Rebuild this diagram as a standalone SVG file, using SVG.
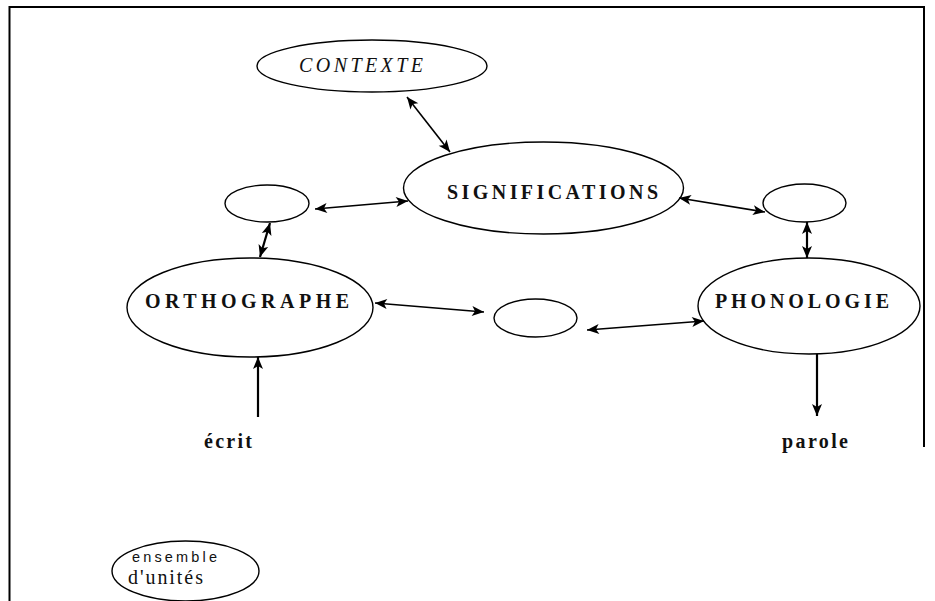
<svg xmlns="http://www.w3.org/2000/svg" width="935" height="601" viewBox="0 0 935 601">
<style>
.node ellipse{fill:#fff;stroke:#000;stroke-width:1.4}
.t{font-family:"Liberation Serif","Times New Roman",serif;font-size:20px;fill:#111}
.b{font-weight:bold}
.i{font-style:italic}
.s{font-family:"Liberation Sans",Arial,sans-serif;font-size:14.5px;fill:#111}
.c line{stroke:#000;stroke-width:1.6;fill:none}
.c line.k{stroke-width:2.2}
.frame{stroke:#000;stroke-width:2;fill:none}
</style>
<defs>
<marker id="ah" viewBox="-1 -6 14 12" refX="12" refY="0" markerWidth="14" markerHeight="12" markerUnits="userSpaceOnUse" orient="auto-start-reverse">
<path d="M0,-5 L12,0 L0,5 L3,0 Z" fill="#000"/>
</marker>
</defs>
<g id="frame">
<path class="frame" d="M9.5,601 V7 H924 V447"/>
</g>
<g id="contexte" class="node">
<ellipse cx="372" cy="66" rx="115" ry="26"/>
<text class="t i" x="299" y="72" textLength="124">CONTEXTE</text>
</g>
<g id="significations" class="node">
<ellipse cx="543.5" cy="188" rx="140" ry="46"/>
<text class="t b" x="447" y="199" textLength="211">SIGNIFICATIONS</text>
</g>
<g id="small-left" class="node">
<ellipse cx="267" cy="203.5" rx="42" ry="18.5"/>
</g>
<g id="small-right" class="node">
<ellipse cx="804.5" cy="203" rx="41.5" ry="19"/>
</g>
<g id="orthographe" class="node">
<ellipse cx="250" cy="307.5" rx="123" ry="49.5"/>
<text class="t b" x="145" y="308" textLength="204">ORTHOGRAPHE</text>
</g>
<g id="small-middle" class="node">
<ellipse cx="535.5" cy="318" rx="41.5" ry="19"/>
</g>
<g id="phonologie" class="node">
<ellipse cx="809" cy="306" rx="111" ry="48"/>
<text class="t b" x="715" y="308" textLength="174">PHONOLOGIE</text>
</g>
<g id="ecrit">
<text class="t b" x="204" y="448" textLength="48">écrit</text>
</g>
<g id="parole">
<text class="t b" x="782" y="448" textLength="66">parole</text>
</g>
<g id="ensemble" class="node">
<ellipse cx="185.5" cy="571" rx="73.5" ry="30"/>
<text class="s" x="132" y="562" textLength="85">ensemble</text>
<text class="t" x="128" y="584" textLength="75">d'unités</text>
</g>
<g id="connectors" class="c">
<line x1="407" y1="97" x2="450" y2="152" marker-start="url(#ah)" marker-end="url(#ah)"/>
<line x1="315" y1="209" x2="408" y2="201" marker-start="url(#ah)" marker-end="url(#ah)"/>
<line class="k" x1="270" y1="223" x2="260" y2="257" marker-start="url(#ah)" marker-end="url(#ah)"/>
<line x1="679" y1="198" x2="765" y2="212" marker-start="url(#ah)" marker-end="url(#ah)"/>
<line class="k" x1="807" y1="222" x2="807" y2="258" marker-start="url(#ah)" marker-end="url(#ah)"/>
<line x1="375" y1="303" x2="484" y2="312" marker-start="url(#ah)" marker-end="url(#ah)"/>
<line x1="587" y1="330" x2="704" y2="321" marker-start="url(#ah)" marker-end="url(#ah)"/>
<line class="k" x1="258" y1="417" x2="258" y2="357" marker-end="url(#ah)"/>
<line class="k" x1="817" y1="354" x2="817" y2="416" marker-end="url(#ah)"/>
</g>
</svg>
